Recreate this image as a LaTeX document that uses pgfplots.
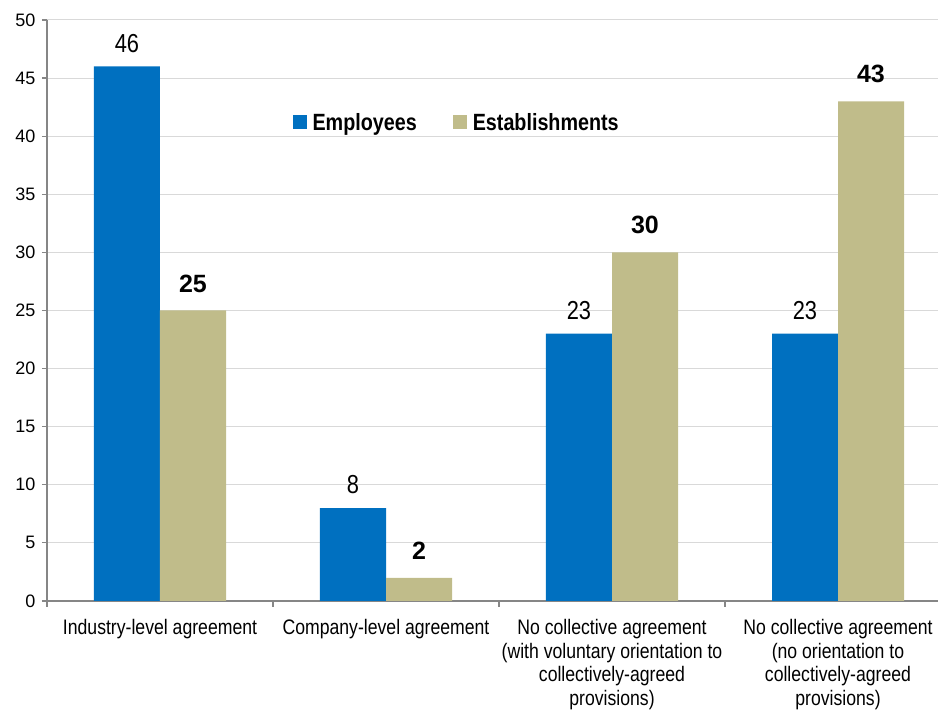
\documentclass[border=0pt]{standalone}
\usepackage{fontspec}
\setmainfont{Liberation Sans}
\newfontfamily\narrow{Liberation Sans}[FakeStretch=0.84]
\usepackage{pgfplots}
\pgfplotsset{compat=1.18}
\definecolor{empblue}{RGB}{0,112,192}
\definecolor{esttan}{RGB}{192,188,138}
\definecolor{axgray}{RGB}{134,134,134}
\definecolor{gridgray}{RGB}{217,217,217}
\begin{document}
\begin{tikzpicture}
\begin{axis}[
  at={(0,0)}, anchor=south west,
  scale only axis, width=891pt, height=581pt,
  xmin=-0.5, xmax=3.4425, ymin=0, ymax=50,
  ybar=0pt, bar width=66pt,
  axis x line*=bottom, axis y line*=left,
  axis line style={axgray, line width=1.2pt},
  ytick={0,5,...,50},
  ymajorgrids, grid style={gridgray, line width=1pt},
  y tick style={axgray, line width=1.2pt},
  tick align=outside, major tick length=5pt,
  yticklabel style={font=\fontsize{18}{20}\selectfont, xshift=-3pt},
  /pgf/number format/assume math mode=true,
  xtick={0,1,2,3},
  x tick style={draw=none},
  xticklabels={Industry-level agreement, Company-level agreement,
    {No collective agreement\\(with voluntary orientation to\\collectively-agreed\\provisions)},
    {No collective agreement\\(no orientation to\\collectively-agreed\\provisions)}},
  xticklabel style={font=\narrow\fontsize{21}{23.5}\selectfont, align=center, anchor=north, yshift=-10pt},
  extra x ticks={-0.5,0.5,1.5,2.5},
  extra x tick labels={},
  extra x tick style={x tick style={draw=axgray, line width=1.2pt}, major tick length=6pt, grid=none},
  nodes near coords,
  legend style={draw=none, fill=none, at={(0.272,0.824)}, anchor=west,
    legend columns=2, font=\narrow\bfseries\fontsize{23.5}{25}\selectfont,
    /tikz/every odd column/.append style={column sep=4pt},
    /tikz/every even column/.append style={column sep=34pt}},
  legend image code/.code={\fill[#1] (0pt,-7pt) rectangle (14pt,7pt);},
]
\addplot[fill=empblue, draw=none,
  nodes near coords style={font=\narrow\fontsize{26}{28}\selectfont, black, anchor=south, inner sep=0pt, yshift=14pt}]
  coordinates {(0,46) (1,8) (2,23) (3,23)};
\addplot[fill=esttan, draw=none,
  nodes near coords style={font=\bfseries\fontsize{25}{27}\selectfont, black, anchor=south, inner sep=0pt, yshift=18pt}]
  coordinates {(0,25) (1,2) (2,30) (3,43)};
\legend{Employees, Establishments}
\end{axis}
\pgfresetboundingbox
\useasboundingbox (-47pt,-110pt) rectangle (893pt,601pt);
\end{tikzpicture}
\end{document}
